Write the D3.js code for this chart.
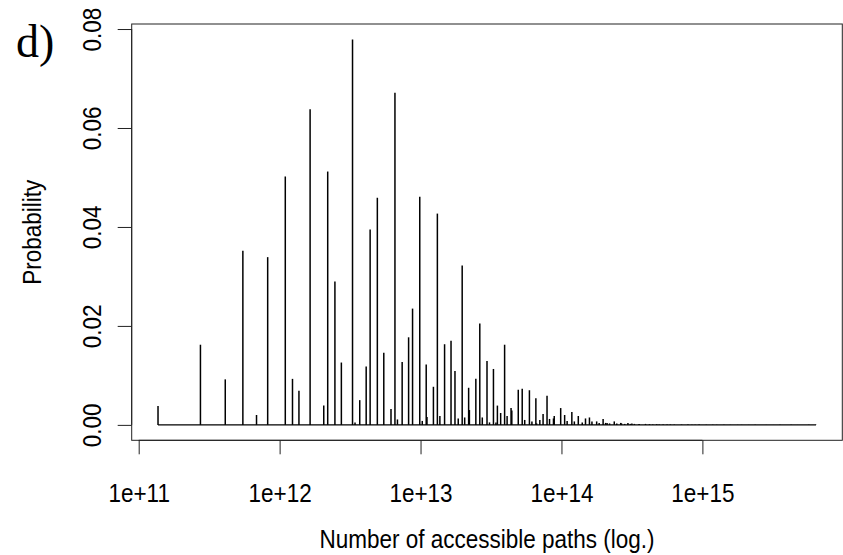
<!DOCTYPE html>
<html>
<head>
<meta charset="utf-8">
<script src="https://cdn.jsdelivr.net/npm/d3@7"></script>
<style>
  html, body { margin: 0; padding: 0; background: #fff; }
  svg { display: block; }
  .lab { font-family: "Liberation Sans", Arial, Helvetica, sans-serif; fill: #000; }
  .panel { font-family: "Liberation Serif", "Times New Roman", serif; fill: #000; }
</style>
</head>
<body>
<svg id="chart" width="843" height="555"></svg>
<script>
// Number of accessible paths, expressed as multiples of the smallest count
const basePaths = 1.3713e11;
const pathMultipliers = [
  1, 2, 3, 4, 5, 6, 8, 9, 10, 12,
  15, 16, 18, 20, 24, 25, 27, 30, 32, 36,
  40, 45, 48, 50, 54, 60, 64, 72, 75, 80,
  81, 90, 96, 100, 108, 120, 128, 135, 144, 150,
  160, 162, 180, 192, 200, 216, 225, 240, 250, 256,
  270, 288, 300, 320, 324, 360, 384, 400, 432, 450,
  480, 486, 512, 540, 576, 600, 640, 648, 720, 768,
  800, 864, 900, 960, 1024, 1080, 1152, 1200, 1296, 1350,
  1440, 1500, 1536, 1600, 1728, 1800, 1920, 1944, 2048, 2160,
  2250, 2304, 2400, 2592, 2880, 3072, 3240, 3456, 3600, 3840,
  4096, 4320, 4608, 5184, 5760, 6144, 6480, 6912, 7776, 8640,
  9216, 10368, 11520, 12960, 13824, 15552, 17280, 20736, 23328, 25920,
  31104, 34560, 41472, 46656
];
// Probability of each path count
const probabilities = [
  .0038, .0162, .0092, .0352, .0020, .0339, .0502, .0093, .0069, .0638,
  .0039, .0512, .0290, .0126, .0779, .0005, .0050, .0118, .0395, .0459,
  .0146, .0032, .0671, .0011, .0127, .0177, .0235, .0461, .0008, .0122,
  .0016, .0077, .0427, .0018, .0163, .0170, .0109, .0013, .0322, .0015,
  .0075, .0030, .0093, .0205, .0015, .0129, .0005, .0113, .0005, .0039,
  .0024, .0162, .0018, .0034, .0029, .0071, .0073, .0010, .0070, .0007,
  .0054, .0003, .0010, .0022, .0059, .0012, .0013, .0018, .0034, .0020,
  .0008, .0026, .0007, .0018, .0005, .0013, .0015, .0007, .0007, .0004,
  .0012, .0004, .0004, .0003, .0007, .0003, .0004, .0003, .0002, .0004,
  .0002, .0003, .0002, .0002, .0002, .00015, .0001, .00015, .0001, .0001,
  .00008, .0001, .00008, .00008, .00007, .00005, .00005, .00006, .00005, .00004,
  .00004, .00004, .00003, .00003, .00003, .00002, .00002, .00002, .00001, .00001,
  .00001, .00001, .00001, .00001
];
const xTickValues = [1e11, 1e12, 1e13, 1e14, 1e15];
const xTickLabels = ["1e+11", "1e+12", "1e+13", "1e+14", "1e+15"];
const yTickValues = [0, 0.02, 0.04, 0.06, 0.08];
const yTickLabels = ["0.00", "0.02", "0.04", "0.06", "0.08"];

const data = pathMultipliers.map((m, i) => ({ paths: m * basePaths, p: probabilities[i] }));

const svg = d3.select("#chart");
svg.append("rect").attr("width", 843).attr("height", 555).attr("fill", "#fff");

const plot = { left: 131.7, right: 842.3, top: 24, bottom: 440.3 };

// axis limits padded by 4% of the data range (log space for x)
const lx = d3.extent(data, d => Math.log10(d.paths));
const padX = (lx[1] - lx[0]) * 0.04;
const x = d3.scaleLog()
  .domain([Math.pow(10, lx[0] - padX), Math.pow(10, lx[1] + padX)])
  .range([plot.left, plot.right]);

const pMax = d3.max(data, d => d.p);
const y = d3.scaleLinear()
  .domain([-0.04 * pMax, 1.04 * pMax])
  .range([plot.bottom, plot.top]);

const textScale = 0.9;

// baseline along zero probability
svg.append("line")
  .attr("x1", x(d3.min(data, d => d.paths)))
  .attr("x2", x(d3.max(data, d => d.paths)))
  .attr("y1", y(0)).attr("y2", y(0))
  .attr("stroke", "#000").attr("stroke-width", 1.2);

// vertical histogram-style lines
svg.append("g").selectAll("line")
  .data(data)
  .join("line")
  .attr("x1", d => x(d.paths)).attr("x2", d => x(d.paths))
  .attr("y1", y(0)).attr("y2", d => y(d.p))
  .attr("stroke", "#000").attr("stroke-width", 1.5);

// frame
svg.append("rect")
  .attr("x", plot.left).attr("y", plot.top)
  .attr("width", plot.right - plot.left).attr("height", plot.bottom - plot.top)
  .attr("fill", "none").attr("stroke", "#222").attr("stroke-width", 1);

// x axis
const xAxis = d3.axisBottom(x)
  .tickValues(xTickValues)
  .tickFormat((d, i) => xTickLabels[i])
  .tickSize(14)
  .tickSizeOuter(0);
const gx = svg.append("g").attr("transform", `translate(0,${plot.bottom})`).call(xAxis);
gx.select(".domain").attr("stroke", "#222")
  .attr("d", `M${x(xTickValues[0])},0H${x(xTickValues[xTickValues.length - 1])}`);
gx.selectAll(".tick line").attr("stroke", "#222");
gx.selectAll(".tick text")
  .attr("class", "lab")
  .attr("font-size", 25)
  .attr("y", 0).attr("dy", 0)
  .attr("transform", `translate(0,62) scale(${textScale},1)`);

// y axis
const yAxis = d3.axisLeft(y)
  .tickValues(yTickValues)
  .tickFormat((d, i) => yTickLabels[i])
  .tickSize(14)
  .tickSizeOuter(0);
const gy = svg.append("g").attr("transform", `translate(${plot.left},0)`).call(yAxis);
gy.select(".domain").attr("stroke", "#222")
  .attr("d", `M0,${y(yTickValues[0])}V${y(yTickValues[yTickValues.length - 1])}`);
gy.selectAll(".tick line").attr("stroke", "#222");
gy.selectAll(".tick text")
  .attr("class", "lab")
  .attr("font-size", 25)
  .attr("x", 0).attr("dy", 0)
  .attr("text-anchor", "middle")
  .attr("transform", `translate(-31,0) rotate(-90) scale(${textScale},1)`);

// axis titles
svg.append("text")
  .attr("class", "lab")
  .attr("font-size", 25)
  .attr("text-anchor", "middle")
  .attr("transform", `translate(${(plot.left + plot.right) / 2},548) scale(${textScale},1)`)
  .text("Number of accessible paths (log.)");

svg.append("text")
  .attr("class", "lab")
  .attr("font-size", 25)
  .attr("text-anchor", "middle")
  .attr("transform", `translate(41,${(plot.top + plot.bottom) / 2}) rotate(-90) scale(${textScale},1)`)
  .text("Probability");

// panel letter
svg.append("text")
  .attr("class", "panel")
  .attr("font-size", 46)
  .attr("x", 16).attr("y", 57)
  .text("d)");
</script>
</body>
</html>
